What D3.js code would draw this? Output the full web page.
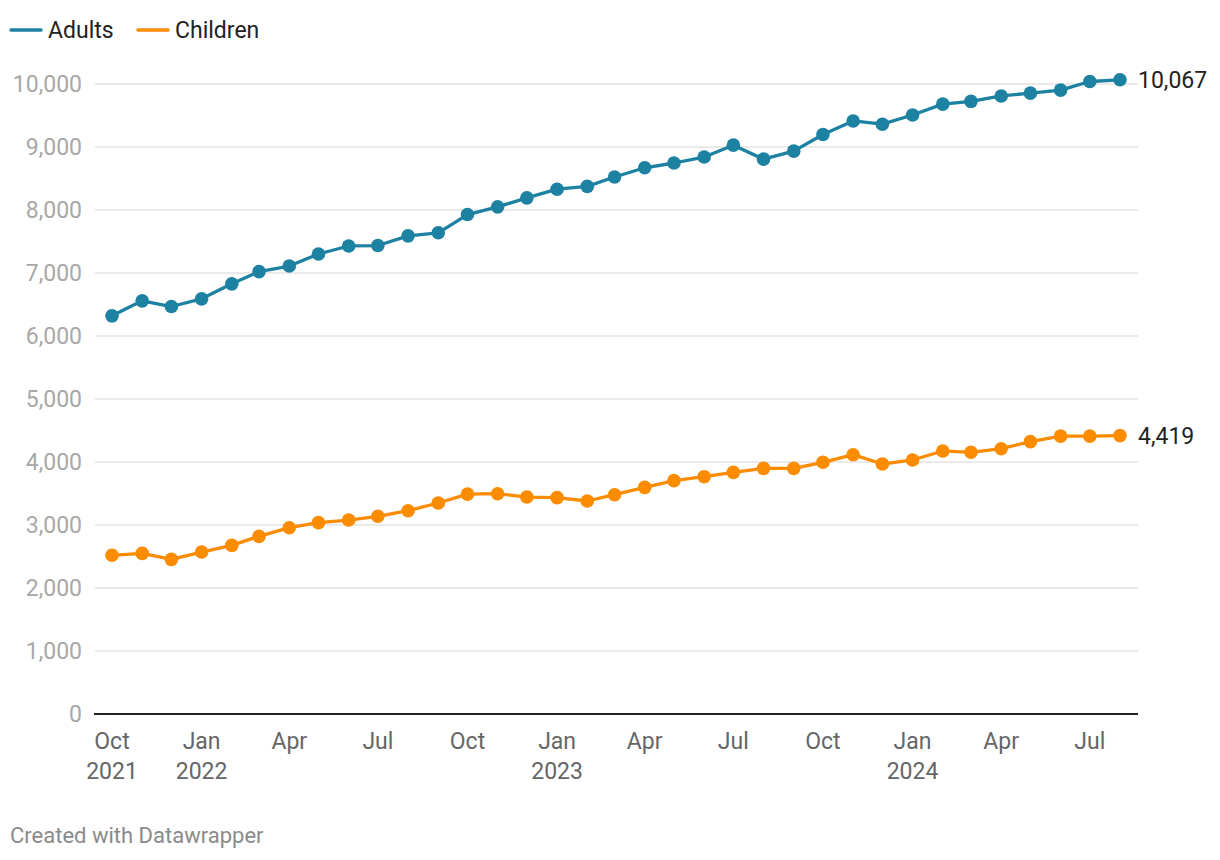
<!DOCTYPE html>
<html>
<head>
<meta charset="utf-8">
<script src="https://cdn.jsdelivr.net/npm/d3@7"></script>
<style>
  body { margin: 0; background: #fff; }
  svg { display: block; font-family: Roboto, "Noto Sans", sans-serif; }
</style>
</head>
<body>
<svg id="chart" width="1220" height="860"></svg>
<script>
const months = ["2021-10","2021-11","2021-12","2022-01","2022-02","2022-03","2022-04","2022-05","2022-06","2022-07","2022-08","2022-09",
  "2022-10","2022-11","2022-12","2023-01","2023-02","2023-03","2023-04","2023-05","2023-06","2023-07","2023-08","2023-09",
  "2023-10","2023-11","2023-12","2024-01","2024-02","2024-03","2024-04","2024-05","2024-06","2024-07","2024-08"];
const adults = [6320,6558,6468,6590,6828,7022,7111,7302,7429,7436,7590,7638,
  7928,8050,8193,8330,8375,8524,8670,8746,8841,9029,8807,8934,
  9198,9413,9362,9508,9680,9725,9810,9855,9902,10040,10067];
const children = [2519,2550,2455,2571,2677,2820,2957,3037,3079,3138,3227,3349,
  3490,3497,3444,3434,3381,3481,3598,3704,3767,3836,3899,3899,
  3995,4116,3968,4032,4175,4154,4211,4323,4410,4410,4419];
const yTicks = [0,1000,2000,3000,4000,5000,6000,7000,8000,9000,10000];
const xTickDates = ["2021-10","2022-01","2022-04","2022-07","2022-10","2023-01","2023-04","2023-07","2023-10","2024-01","2024-04","2024-07"];
const xTickMonth = ["Oct","Jan","Apr","Jul","Oct","Jan","Apr","Jul","Oct","Jan","Apr","Jul"];
const xTickYear = ["2021","2022","","","","2023","","","","2024","",""];
const seriesNames = ["Adults","Children"];
const seriesColors = ["#1d81a2","#fb8c00"];

const parse = d3.timeParse("%Y-%m");
const dates = months.map(parse);
const svg = d3.select("#chart");

const x = d3.scaleTime().domain([dates[0], dates[dates.length-1]]).range([112, 1120]);
const y = d3.scaleLinear().domain([0, 10000]).range([714, 84]);

// gridlines
svg.append("g").selectAll("line").data(yTicks.filter(d => d > 0)).join("line")
  .attr("x1", 95).attr("x2", 1138)
  .attr("y1", d => y(d)).attr("y2", d => y(d))
  .attr("stroke", "#e3e3e3").attr("stroke-width", 1.3);

// y labels
svg.append("g").selectAll("text").data(yTicks).join("text")
  .attr("x", 82).attr("y", d => y(d)).attr("dy", "0.35em")
  .attr("text-anchor", "end").attr("fill", "#a8a8a8").attr("font-size", 23)
  .text(d => d3.format(",")(d));

// baseline
svg.append("line").attr("x1", 94).attr("x2", 1138).attr("y1", y(0)).attr("y2", y(0))
  .attr("stroke", "#222").attr("stroke-width", 2);

// x labels
const xg = svg.append("g");
xTickDates.forEach((m, i) => {
  const xx = x(parse(m));
  xg.append("text").attr("x", xx).attr("y", 749).attr("text-anchor", "middle")
    .attr("fill", "#666").attr("font-size", 23).text(xTickMonth[i]);
  if (xTickYear[i]) {
    xg.append("text").attr("x", xx).attr("y", 779).attr("text-anchor", "middle")
      .attr("fill", "#666").attr("font-size", 23).text(xTickYear[i]);
  }
});

// series
const allSeries = [adults, children];
const line = d3.line().x((d, i) => x(dates[i])).y(d => y(d));
allSeries.forEach((vals, s) => {
  svg.append("path").datum(vals).attr("d", line)
    .attr("fill", "none").attr("stroke", seriesColors[s]).attr("stroke-width", 3.3)
    .attr("stroke-linejoin", "round");
  svg.append("g").selectAll("circle").data(vals).join("circle")
    .attr("cx", (d, i) => x(dates[i])).attr("cy", d => y(d)).attr("r", 6.8)
    .attr("fill", seriesColors[s]);
  const last = vals[vals.length-1];
  svg.append("text").attr("x", 1138).attr("y", y(last)).attr("dy", "0.35em")
    .attr("fill", "#222").attr("font-size", 23).text(d3.format(",")(last));
});

// legend
const legendX = [10, 137];
seriesNames.forEach((n, i) => {
  svg.append("line").attr("x1", legendX[i] + 1).attr("x2", legendX[i] + 31)
    .attr("y1", 30).attr("y2", 30).attr("stroke", seriesColors[i])
    .attr("stroke-width", 3.5).attr("stroke-linecap", "round");
  svg.append("text").attr("x", legendX[i] + 38).attr("y", 30).attr("dy", "0.35em")
    .attr("fill", "#222").attr("font-size", 23).text(n);
});

// footer
svg.append("text").attr("x", 10).attr("y", 843).attr("fill", "#8a8a8a")
  .attr("font-size", 22).text("Created with Datawrapper");
</script>
</body>
</html>
